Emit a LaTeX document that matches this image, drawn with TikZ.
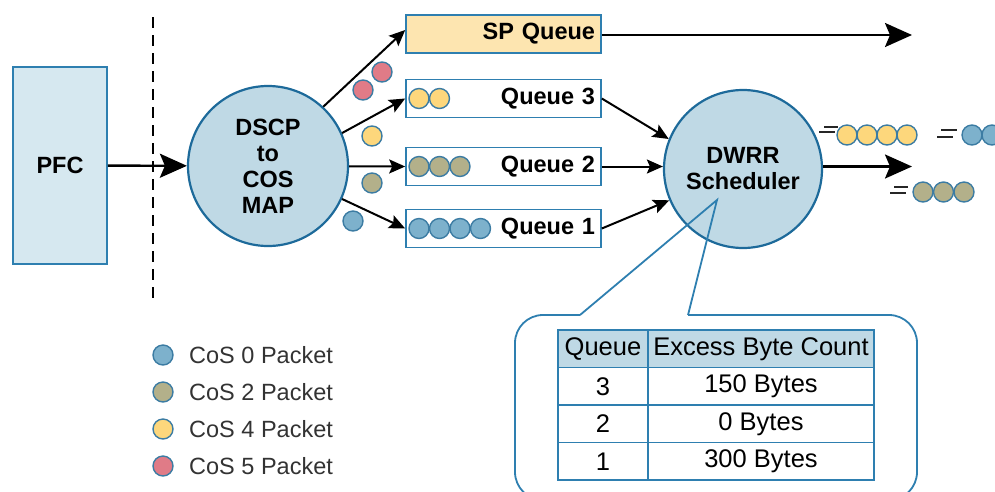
\documentclass[tikz,border=0pt]{standalone}
\usepackage{fontspec}
\setmainfont{Liberation Sans}
\usetikzlibrary{arrows.meta}

\definecolor{qline}{HTML}{2E7FB0}
\definecolor{cline}{HTML}{1D6A9A}
\definecolor{cfill}{HTML}{BFD9E5}
\definecolor{pfcfill}{HTML}{D6E8F0}
\definecolor{spfill}{HTML}{FDE5B0}
\definecolor{pktline}{HTML}{3C7CA3}
\definecolor{cos0}{HTML}{7DB1CC}
\definecolor{cos2}{HTML}{B3B08A}
\definecolor{cos4}{HTML}{FDD77C}
\definecolor{cos5}{HTML}{E07B87}

\newcommand{\lblfont}{\fontsize{23.5}{26}\selectfont}
\newcommand{\tblfont}{\fontsize{25.5}{28}\selectfont}

\tikzset{
  pkt/.style={circle, draw=pktline, line width=1.4pt, inner sep=0pt, minimum size=20pt},
  qbox/.style={draw=qline, line width=1.6pt, fill=white, minimum height=38pt, text width=183pt, inner xsep=6pt, align=right, font=\lblfont\bfseries},
  bigcirc/.style={circle, draw=cline, line width=2.2pt, fill=cfill, inner sep=0pt, align=center, font=\lblfont\bfseries},
  bigarr/.style={line width=2.4pt, -{Stealth[length=27pt, width=24pt, inset=5pt]}},
  arr/.style={line width=2pt, -{Stealth[length=16pt, width=14pt, inset=3pt]}},
  cell/.style={draw=qline, line width=1.4pt, minimum height=37.5pt, inner sep=0pt, font=\tblfont},
  callout/.style={draw=qline, line width=1.8pt},
  brk/.style={line width=2pt, black!85},
}

\begin{document}
\begin{tikzpicture}[x=1pt, y=-1pt]
  \useasboundingbox (0,0) rectangle (995,491);

  \coordinate (dtop) at (153,17);
  \coordinate (dbot) at (153,305);
  \draw[line width=2pt, dash pattern=on 11pt off 7pt] (dtop) -- (dbot);

  \node[draw=qline, line width=1.6pt, fill=pfcfill, minimum width=94pt, minimum height=197pt, font=\lblfont\bfseries] (pfc) at (60,165.5) {PFC};
  \node[bigcirc, minimum size=160pt] (dscp) at (268,166) {DSCP\\to\\COS\\MAP};

  \node[qbox, fill=spfill] (sp) at (503.5,34) {SP Queue};
  \node[qbox] (q3) at (503.5,98.5) {Queue 3};
  \node[qbox] (q2) at (503.5,166.5) {Queue 2};
  \node[qbox] (q1) at (503.5,228.5) {Queue 1};

  \node[bigcirc, minimum size=158pt] (dwrr) at (743,169) {DWRR\\Scheduler};

  \coordinate (spout) at (912,35);
  \coordinate (dwout) at (912,166.5);

  \draw[bigarr] (pfc) -- (dscp);
  \draw[arr] (dscp.47) -- ([yshift=4pt]sp.west);
  \draw[arr] (dscp.24) -- (q3.west);
  \draw[arr] (dscp) -- (q2.west);
  \draw[arr] (dscp.-24) -- (q1.west);
  \draw[arr] (q3.east) -- (dwrr.158);
  \draw[arr] (q2.east) -- (q2.east -| dwrr.west);
  \draw[arr] (q1.east) -- (dwrr.203);
  \draw[bigarr] (spout -| sp.east) -- (spout);
  \draw[bigarr] (dwout -| dwrr.east) -- (dwout);

  \node[pkt, fill=cos5] (p5a) at (382,72) {};
  \node[pkt, fill=cos5] (p5b) at (363,90) {};
  \node[pkt, fill=cos4] (p4) at (372,136) {};
  \node[pkt, fill=cos2] (p2) at (372,183) {};
  \node[pkt, fill=cos0] (p0) at (353,221) {};

  \foreach \i in {0,1}
    \node[pkt, fill=cos4] (q3p\i) at ({419+20.5*\i},98.5) {};
  \foreach \i in {0,...,2}
    \node[pkt, fill=cos2] (q2p\i) at ({419+20.5*\i},166.5) {};
  \foreach \i in {0,...,3}
    \node[pkt, fill=cos0] (q1p\i) at ({419+20.5*\i},228.5) {};

  \foreach \i in {0,...,3}
    \node[pkt, fill=cos4] (o4p\i) at ({847+20*\i},135) {};
  \foreach \i in {0,1}
    \node[pkt, fill=cos0] (o0p\i) at ({972+20*\i},135) {};
  \foreach \i in {0,...,2}
    \node[pkt, fill=cos2] (o2p\i) at ({923+20.5*\i},192) {};

  \draw[brk] (824,127) -- (838,127) (819,132) -- (835,132);
  \draw[brk] (941,130) -- (957,130) (937,137) -- (953,137);
  \draw[brk] (894,187) -- (908,187) (890,193) -- (906,193);

  \draw[callout, rounded corners=28pt] (688,315) -- (917,315) -- (917,500) -- (515,500) -- (515,315) -- (580,315);
  \draw[callout] (580,315) -- (717,200) -- (688,315);

  \node[cell, fill=cfill, minimum width=90pt] (hq) at (603,348.75) {Queue};
  \node[cell, fill=cfill, minimum width=226pt] (hb) at (761,348.75) {Excess Byte Count};
  \foreach \q/\b/\y in {3/150 Bytes/386.25, 2/0 Bytes/423.75, 1/300 Bytes/461.25}{
    \node[cell, minimum width=90pt] (tq\q) at (603,\y) {\q};
    \node[cell, minimum width=226pt] (tb\q) at (761,\y) {\b};
  }

  \foreach \c/\k/\y in {cos0/0/355, cos2/2/392, cos4/4/429, cos5/5/466}{
    \node[pkt, fill=\c] (lg\k) at (163,\y) {};
    \node[anchor=west, inner sep=0pt, text=black!80, font=\lblfont] (lt\k) at (189,\y) {CoS \k\ Packet};
  }
\end{tikzpicture}
\end{document}
